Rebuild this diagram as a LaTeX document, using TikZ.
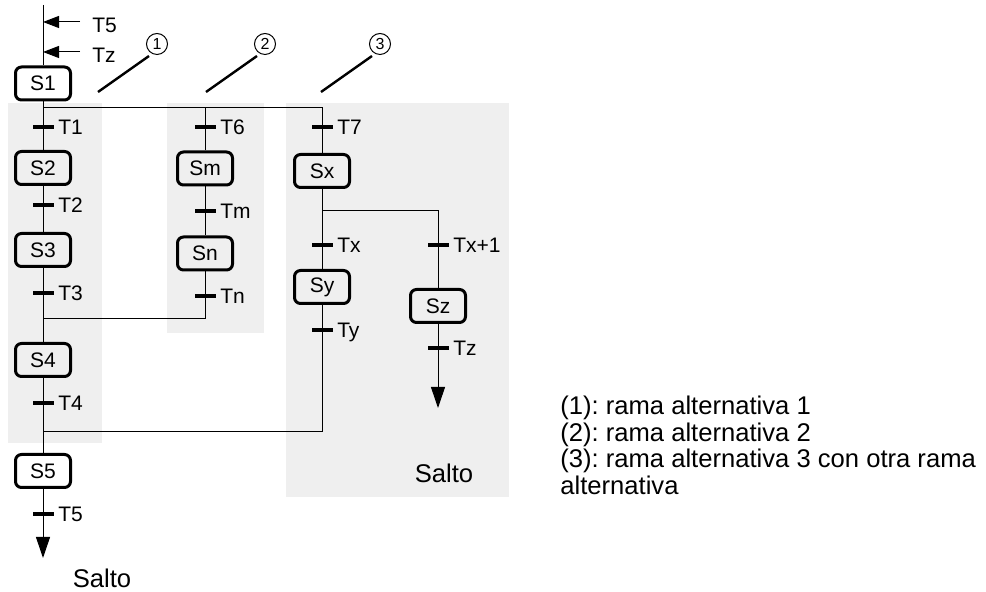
\documentclass[tikz,border=0pt]{standalone}
\usepackage{fontspec}
\setmainfont{Liberation Sans}
\usetikzlibrary{arrows.meta, positioning, calc}
\definecolor{panelgray}{RGB}{239,239,239}
\newcommand{\lblfont}{\fontsize{10.5}{12}\selectfont}
\newcommand{\bigfont}{\fontsize{12.8}{13.2}\selectfont}
\frenchspacing

\begin{document}
\begin{tikzpicture}[
		x=0.5pt, y=-0.5pt,
		every node/.style={font=\lblfont},
		stepbox/.style={draw, line width=1.5pt, rounded corners=3pt, minimum width=27.5pt, minimum height=16.5pt, inner sep=0pt},
		trans/.style={fill=black, minimum width=10.5pt, minimum height=2pt, inner sep=0pt, label={[inner sep=0.5pt, label distance=1.5pt, text depth=0pt]east:#1}},
		link/.style={line width=0.5pt},
		jump/.style={line width=0.5pt, -{Triangle[length=10.5pt, width=7pt]}},
		entry/.style={line width=0.5pt, -{Triangle[length=8pt, width=6pt]}},
		leader/.style={line width=1.2pt},
		tag/.style={draw, circle, line width=0.5pt, minimum size=10.5pt, inner sep=0pt, font=\fontsize{8}{9}\selectfont},
		panel/.style={fill=panelgray}
	]
	\useasboundingbox (0,0) rectangle (986,592);

	% Gray panels of the three alternative branches
	\fill[panel] (8,103) rectangle (102,443);
	\fill[panel] (167,103) rectangle (264,333);
	\fill[panel] (286,103) rectangle (509,497);

	% Steps
	\node[stepbox] (s1) at (43,83.5) {S1};
	\node[stepbox] (s2) at (43,168) {S2};
	\node[stepbox] (s3) at (43,250) {S3};
	\node[stepbox] (s4) at (43,360) {S4};
	\node[stepbox] (s5) at (43,471) {S5};
	\node[stepbox] (sm) at (205,168.5) {Sm};
	\node[stepbox] (sn) at (205,253.5) {Sn};
	\node[stepbox] (sx) at (322,171) {Sx};
	\node[stepbox] (sy) at (322,287) {Sy};
	\node[stepbox] (sz) at (438,306) {Sz};

	% Transitions
	\node[trans=T1] (t1) at (43,127) {};
	\node[trans=T2] (t2) at (43,205) {};
	\node[trans=T3] (t3) at (43,293) {};
	\node[trans=T4] (t4) at (43,403) {};
	\node[trans=T5] (t5) at (43,514) {};
	\node[trans=T6] (t6) at (205,127) {};
	\node[trans=Tm] (tm) at (205,211) {};
	\node[trans=Tn] (tn) at (205,296) {};
	\node[trans=T7] (t7) at (322,127) {};
	\node[trans=Tx] (tx) at (322,245) {};
	\node[trans=Ty] (ty) at (322,330) {};
	\node[trans=Tx+1] (tx1) at (438,245) {};
	\node[trans=Tz] (tzz) at (438,348) {};

	% Branch and join points
	\coordinate (top) at (43,5);
	\coordinate (div) at (43,108);
	\coordinate (join1) at (43,319);
	\coordinate (join2) at (43,432);
	\coordinate (div2) at (322,211);
	\coordinate (end1) at (43,558);
	\coordinate (endz) at (438,408);

	% Jumps coming in from T5 and Tz
	\node[anchor=west, inner sep=0pt] (in5) at (92,25) {T5};
	\node[anchor=west, inner sep=0pt] (inz) at (92,55) {Tz};
	\draw[entry] ($(in5.west)+(-12,-3)$) -- (top |- {$(in5.west)+(0,-3)$});
	\draw[entry] ($(inz.west)+(-12,-3)$) -- (top |- {$(inz.west)+(0,-3)$});

	% Vertical links
	\draw[link] (top) -- (s1.north);
	\foreach \a/\b in {s1/s2, s2/s3, s3/s4, s4/s5, sm/sn, sx/sy}
		\draw[link] (\a.south) -- (\b.north);
	\draw[link] (div) -| (sx.north);
	\draw[link] (sm.north) -- (sm.north |- div);
	\draw[link] (sn.south) |- (join1);
	\draw[link] (sy.south) |- (join2);
	\draw[link] (div2) -| (sz.north);
	\draw[jump] (s5.south) -- (end1);
	\draw[jump] (sz.south) -- (endz);

	% Branch tags with leaders
	\node[tag] (c1) at (157,44) {1};
	\node[tag] (c2) at (265,44) {2};
	\node[tag] (c3) at (380,44) {3};
	\foreach \c in {c1, c2, c3}
		\draw[leader] ($(\c.center)+(-59,48)$) -- ($(\c.center)+(-8,12)$);

	% Jump labels and legend
	\node[font=\bigfont] (salto1) at (102,578) {Salto};
	\node[font=\bigfont] (salto2) at (444,473) {Salto};
	\node[font=\bigfont, align=left, anchor=north west, inner sep=0pt] (legend) at (560,396)
		{(1): rama alternativa 1\\(2): rama alternativa 2\\(3): rama alternativa 3 con otra rama\\alternativa};
\end{tikzpicture}
\end{document}
